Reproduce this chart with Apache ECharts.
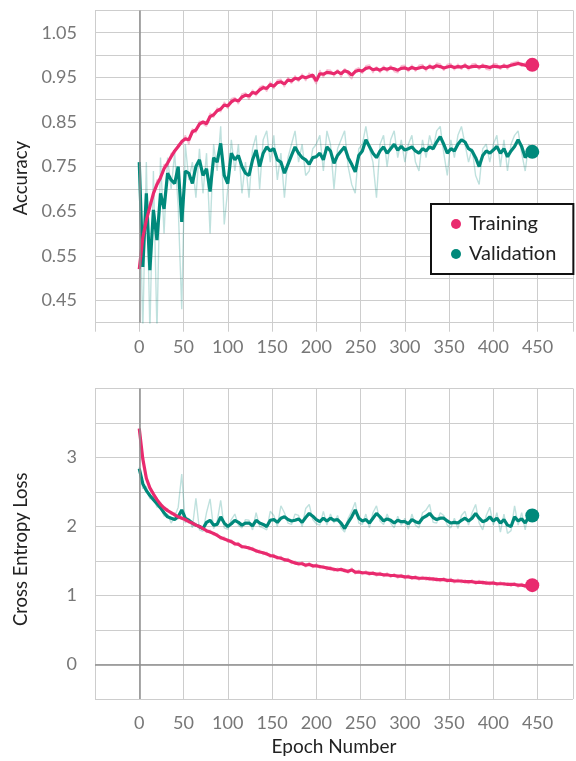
<!DOCTYPE html>
<html>
<head>
<meta charset="utf-8">
<script src="https://cdn.jsdelivr.net/npm/echarts@6/dist/echarts.min.js"></script>
<style>
html,body{margin:0;padding:0;background:#fff;}
#chart{width:576px;height:761px;}
</style>
</head>
<body>
<div id="chart"></div>
<script>
// ---- DATA ----
const epochs = [
  0,4,8,12,16,20,24,28,
  32,36,40,44,48,52,56,60,
  64,68,72,76,80,84,88,92,
  96,100,104,108,112,116,120,124,
  128,132,136,140,144,148,152,156,
  160,164,168,172,176,180,184,188,
  192,196,200,204,208,212,216,220,
  224,228,232,236,240,244,248,252,
  256,260,264,268,272,276,280,284,
  288,292,296,300,304,308,312,316,
  320,324,328,332,336,340,344,348,
  352,356,360,364,368,372,376,380,
  384,388,392,396,400,404,408,412,
  416,420,424,428,432,436,440,444
];

const trainAcc = [
  0.52,0.59,0.63,0.66,0.69,0.71,0.725,0.745,
  0.758,0.772,0.785,0.795,0.806,0.812,0.81,0.828,
  0.832,0.845,0.85,0.846,0.862,0.866,0.875,0.879,
  0.888,0.886,0.895,0.9,0.897,0.906,0.91,0.908,
  0.916,0.914,0.922,0.927,0.925,0.934,0.93,0.938,
  0.94,0.935,0.944,0.942,0.948,0.946,0.952,0.949,
  0.952,0.955,0.942,0.958,0.957,0.961,0.96,0.958,
  0.963,0.958,0.965,0.962,0.955,0.963,0.966,0.964,
  0.97,0.972,0.967,0.969,0.966,0.97,0.968,0.971,
  0.969,0.966,0.97,0.971,0.968,0.972,0.969,0.971,
  0.973,0.97,0.974,0.972,0.976,0.974,0.971,0.973,
  0.975,0.972,0.974,0.973,0.976,0.972,0.974,0.975,
  0.973,0.975,0.974,0.972,0.975,0.974,0.973,0.975,
  0.974,0.977,0.979,0.981,0.979,0.977,0.977,0.978
];
const trainAccRaw = [
  0.52,0.61,0.62,0.67,0.68,0.72,0.72,0.755,
  0.75,0.78,0.78,0.80,0.80,0.82,0.80,0.835,
  0.825,0.852,0.845,0.84,0.87,0.86,0.882,0.872,
  0.895,0.88,0.902,0.905,0.89,0.913,0.915,0.90,
  0.922,0.908,0.928,0.932,0.918,0.94,0.924,0.944,
  0.946,0.928,0.95,0.936,0.954,0.94,0.958,0.942,
  0.96,0.948,0.935,0.966,0.95,0.967,0.966,0.952,
  0.968,0.95,0.97,0.956,0.946,0.968,0.972,0.958,
  0.976,0.978,0.96,0.974,0.96,0.976,0.962,0.977,
  0.963,0.96,0.976,0.977,0.962,0.978,0.963,0.977,
  0.979,0.964,0.98,0.966,0.982,0.98,0.965,0.979,
  0.981,0.966,0.98,0.967,0.982,0.966,0.98,0.981,
  0.967,0.981,0.968,0.966,0.981,0.98,0.967,0.981,
  0.968,0.982,0.984,0.986,0.974,0.983,0.972,0.978
];
const valAcc = [
  0.76,0.525,0.69,0.518,0.653,0.585,0.69,0.655,
  0.735,0.72,0.712,0.75,0.626,0.74,0.735,0.712,
  0.75,0.765,0.73,0.745,0.694,0.77,0.76,0.802,
  0.73,0.712,0.78,0.765,0.775,0.75,0.735,0.73,
  0.765,0.787,0.75,0.78,0.794,0.785,0.79,0.765,
  0.76,0.735,0.755,0.775,0.794,0.78,0.77,0.765,
  0.755,0.77,0.772,0.78,0.765,0.794,0.785,0.757,
  0.775,0.785,0.794,0.77,0.755,0.738,0.775,0.785,
  0.81,0.795,0.78,0.77,0.785,0.794,0.78,0.79,
  0.80,0.787,0.795,0.787,0.79,0.794,0.785,0.78,
  0.79,0.785,0.794,0.79,0.805,0.817,0.80,0.78,
  0.79,0.785,0.80,0.81,0.805,0.79,0.785,0.77,
  0.75,0.775,0.785,0.78,0.787,0.795,0.78,0.79,
  0.772,0.785,0.795,0.81,0.795,0.77,0.785,0.783
];
const valAccRaw = [
  0.76,0.38,0.76,0.38,0.74,0.38,0.77,0.60,
  0.77,0.70,0.78,0.66,0.43,0.80,0.72,0.76,
  0.68,0.79,0.69,0.78,0.60,0.80,0.74,0.84,
  0.62,0.70,0.81,0.74,0.80,0.69,0.76,0.68,
  0.79,0.82,0.70,0.81,0.83,0.76,0.82,0.72,
  0.78,0.68,0.77,0.80,0.83,0.76,0.80,0.73,
  0.74,0.79,0.80,0.82,0.74,0.83,0.80,0.70,
  0.79,0.81,0.83,0.75,0.71,0.69,0.79,0.80,
  0.84,0.79,0.76,0.68,0.80,0.82,0.75,0.81,
  0.83,0.77,0.81,0.76,0.80,0.82,0.76,0.74,
  0.81,0.77,0.82,0.79,0.83,0.84,0.78,0.73,
  0.81,0.77,0.82,0.84,0.80,0.76,0.79,0.73,
  0.71,0.79,0.80,0.76,0.80,0.82,0.75,0.81,
  0.74,0.80,0.82,0.83,0.78,0.74,0.80,0.78
];

const trainLoss = [
  3.42,2.98,2.70,2.56,2.47,2.39,2.32,2.27,
  2.23,2.20,2.17,2.14,2.12,2.10,2.07,2.05,
  2.02,2.00,1.97,1.94,1.92,1.90,1.87,1.84,
  1.82,1.80,1.78,1.75,1.74,1.71,1.70,1.69,
  1.67,1.65,1.63,1.62,1.60,1.58,1.57,1.55,
  1.54,1.52,1.51,1.49,1.47,1.46,1.46,1.44,
  1.45,1.43,1.43,1.42,1.41,1.40,1.39,1.38,
  1.37,1.38,1.36,1.35,1.37,1.34,1.34,1.33,
  1.33,1.32,1.32,1.31,1.31,1.30,1.30,1.29,
  1.29,1.28,1.28,1.27,1.27,1.26,1.26,1.25,
  1.25,1.25,1.24,1.24,1.23,1.23,1.23,1.22,
  1.22,1.21,1.21,1.21,1.20,1.20,1.20,1.19,
  1.19,1.19,1.18,1.18,1.18,1.17,1.17,1.17,
  1.16,1.16,1.16,1.15,1.15,1.14,1.15,1.15
];
const trainLossRaw = [
  3.40,2.95,2.73,2.53,2.50,2.36,2.35,2.24,
  2.26,2.17,2.20,2.11,2.15,2.07,2.10,2.02,
  2.05,1.97,2.00,1.91,1.95,1.87,1.90,1.81,
  1.85,1.77,1.81,1.72,1.77,1.68,1.73,1.66,
  1.70,1.62,1.66,1.59,1.63,1.55,1.60,1.52,
  1.57,1.49,1.54,1.46,1.50,1.43,1.49,1.41,
  1.48,1.40,1.46,1.39,1.44,1.37,1.42,1.35,
  1.40,1.35,1.39,1.32,1.40,1.31,1.37,1.30,
  1.36,1.29,1.35,1.28,1.34,1.27,1.33,1.26,
  1.32,1.25,1.31,1.24,1.30,1.23,1.29,1.22,
  1.28,1.22,1.27,1.21,1.26,1.20,1.26,1.19,
  1.25,1.18,1.24,1.18,1.23,1.17,1.23,1.16,
  1.22,1.16,1.21,1.15,1.21,1.14,1.20,1.14,
  1.19,1.13,1.19,1.12,1.18,1.11,1.17,1.15
];
const valLoss = [
  2.84,2.62,2.52,2.45,2.39,2.33,2.27,2.20,
  2.14,2.12,2.10,2.14,2.24,2.12,2.09,2.05,
  2.02,2.00,1.97,2.06,2.09,2.02,2.03,2.14,
  2.05,2.00,2.04,2.09,2.06,2.02,2.05,2.05,
  2.01,2.09,2.05,2.03,2.00,2.09,2.10,2.06,
  2.12,2.14,2.10,2.08,2.09,2.11,2.06,2.13,
  2.19,2.15,2.10,2.07,2.12,2.08,2.12,2.09,
  2.10,2.05,1.97,2.06,2.14,2.24,2.12,2.08,
  2.10,2.05,2.12,2.19,2.14,2.08,2.11,2.09,
  2.05,2.09,2.07,2.07,2.04,2.10,2.07,2.05,
  2.12,2.15,2.19,2.13,2.10,2.12,2.12,2.08,
  2.05,2.06,2.05,2.09,2.12,2.08,2.12,2.19,
  2.12,2.07,2.09,2.14,2.08,2.12,2.05,2.10,
  2.02,2.00,2.14,2.08,2.11,2.05,2.14,2.16
];
const valLossRaw = [
  2.86,2.55,2.58,2.40,2.42,2.28,2.30,2.15,
  2.18,2.05,2.14,2.28,2.76,2.05,2.12,1.98,
  2.41,1.95,1.93,2.20,2.40,1.97,2.07,2.38,
  1.98,1.96,2.10,2.18,2.02,1.98,2.10,2.09,
  1.95,2.20,2.00,1.98,1.95,2.22,2.16,2.00,
  2.30,2.20,2.05,2.03,2.18,2.16,2.00,2.26,
  2.32,2.10,2.04,2.02,2.22,2.02,2.18,2.05,
  2.16,1.98,1.92,2.12,2.22,2.35,2.05,2.03,
  2.18,1.98,2.20,2.30,2.08,2.03,2.18,2.05,
  1.98,2.15,2.02,2.12,1.96,2.18,2.02,1.98,
  2.20,2.24,2.32,2.06,2.05,2.20,2.16,2.02,
  1.98,2.12,1.97,2.16,2.22,2.02,2.20,2.32,
  2.05,1.95,2.16,2.28,2.02,2.20,1.92,2.18,
  1.90,1.94,2.30,2.02,2.20,1.95,2.25,2.16
];

const accTicksShown = ['0.45','0.55','0.65','0.75','0.85','0.95','1.05'];
const lossTicksShown = ['0','1','2','3'];
const epochTicksShown = ['0','50','100','150','200','250','300','350','400','450'];

// ---- STYLE ----
const PINK = '#e92a6e';
const TEAL = '#00897b';
const GRIDC = '#cdcdcd';
const ZEROC = '#8e8e8e';
const FONT = 'Lato';

const pairs = arr => epochs.map((e, i) => [e, arr[i]]);
const last = arr => [[epochs[epochs.length - 1], arr[arr.length - 1]]];

const tickLabel = {fontFamily: FONT, fontSize: 18, color: '#777'};

function xAxisFor(idx, extra) {
  return Object.assign({
    gridIndex: idx, type: 'value', min: -50, max: 490, interval: 50,
    axisLine: {show: false},
    axisTick: {show: true, length: 9, lineStyle: {color: GRIDC}},
    splitLine: {show: true, lineStyle: {color: GRIDC, width: 1}},
    axisLabel: Object.assign({}, tickLabel, {
      margin: 15,
      formatter: v => { const s = String(Math.round(v)); return epochTicksShown.includes(s) ? s : ''; }
    })
  }, extra || {});
}

const zeroX = {silent: true, symbol: 'none', label: {show: false},
  lineStyle: {color: ZEROC, width: 1.5, type: 'solid'}, data: [{xAxis: 0}]};
const zeroXY = {silent: true, symbol: 'none', label: {show: false},
  lineStyle: {color: ZEROC, width: 1.5, type: 'solid'}, data: [{xAxis: 0}, {yAxis: 0}]};

const option = {
  animation: false,
  backgroundColor: '#fff',
  textStyle: {fontFamily: FONT},
  grid: [
    {left: 95, top: 10.4, height: 312.3, right: 0},
    {left: 95, top: 388.5, height: 310.5, right: 0}
  ],
  xAxis: [
    xAxisFor(0),
    xAxisFor(1, {name: 'Epoch Number', nameLocation: 'middle', nameGap: 38,
      nameTextStyle: {fontFamily: FONT, fontSize: 19, color: '#222'}})
  ],
  yAxis: [
    {
      gridIndex: 0, type: 'value', min: 0.4, max: 1.1, interval: 0.05,
      name: 'Accuracy', nameLocation: 'middle', nameGap: 64,
      nameTextStyle: {fontFamily: FONT, fontSize: 18.5, color: '#222', padding: [0, 23, 0, 0]},
      axisLine: {show: false},
      axisTick: {show: true, length: 9, lineStyle: {color: GRIDC}},
      splitLine: {show: true, lineStyle: {color: GRIDC, width: 1}},
      axisLabel: Object.assign({}, tickLabel, {
        margin: 18,
        formatter: v => { const s = v.toFixed(2); return accTicksShown.includes(s) ? s : ''; }
      })
    },
    {
      gridIndex: 1, type: 'value', min: -0.5, max: 4, interval: 0.5,
      name: 'Cross Entropy Loss', nameLocation: 'middle', nameGap: 64,
      nameTextStyle: {fontFamily: FONT, fontSize: 18.5, color: '#222', padding: [0, 11, 0, 0]},
      axisLine: {show: false},
      axisTick: {show: true, length: 9, lineStyle: {color: GRIDC}},
      splitLine: {show: true, lineStyle: {color: GRIDC, width: 1}},
      axisLabel: Object.assign({}, tickLabel, {
        margin: 18,
        formatter: v => { const s = String(Math.round(v * 100) / 100); return lossTicksShown.includes(s) ? s : ''; }
      })
    }
  ],
  legend: {
    data: [{name: 'Training', icon: 'circle'}, {name: 'Validation', icon: 'circle'}],
    orient: 'vertical', left: 431, top: 204,
    itemWidth: 10, itemHeight: 10, itemGap: 8,
    padding: [9, 17, 9, 20],
    borderColor: '#111', borderWidth: 2, borderRadius: 0,
    backgroundColor: '#fff',
    textStyle: {fontFamily: FONT, fontSize: 20, color: '#222', lineHeight: 22, padding: [0, 0, 0, 3]}
  },
  series: [
    // ---- accuracy panel ----
    {name: 'Validation raw', type: 'line', xAxisIndex: 0, yAxisIndex: 0, data: pairs(valAccRaw),
      symbol: 'none', color: TEAL, lineStyle: {color: TEAL, width: 1.4, opacity: 0.25}, z: 1,
      markLine: zeroX},
    {name: 'Training raw', type: 'line', xAxisIndex: 0, yAxisIndex: 0, data: pairs(trainAccRaw),
      symbol: 'none', color: PINK, lineStyle: {color: PINK, width: 1.4, opacity: 0.3}, z: 1},
    {name: 'Validation', type: 'line', xAxisIndex: 0, yAxisIndex: 0, data: pairs(valAcc),
      symbol: 'none', color: TEAL, lineStyle: {color: TEAL, width: 3.2}, z: 3},
    {name: 'Training', type: 'line', xAxisIndex: 0, yAxisIndex: 0, data: pairs(trainAcc),
      symbol: 'none', color: PINK, lineStyle: {color: PINK, width: 3.2}, z: 4},
    {name: 'Validation', type: 'scatter', xAxisIndex: 0, yAxisIndex: 0, data: last(valAcc),
      symbolSize: 14, itemStyle: {color: TEAL, opacity: 1}, z: 5},
    {name: 'Training', type: 'scatter', xAxisIndex: 0, yAxisIndex: 0, data: last(trainAcc),
      symbolSize: 14, itemStyle: {color: PINK, opacity: 1}, z: 5},
    // ---- loss panel ----
    {name: 'Validation raw', type: 'line', xAxisIndex: 1, yAxisIndex: 1, data: pairs(valLossRaw),
      symbol: 'none', color: TEAL, lineStyle: {color: TEAL, width: 1.4, opacity: 0.25}, z: 1,
      markLine: zeroXY},
    {name: 'Training raw', type: 'line', xAxisIndex: 1, yAxisIndex: 1, data: pairs(trainLossRaw),
      symbol: 'none', color: PINK, lineStyle: {color: PINK, width: 1.4, opacity: 0.3}, z: 1},
    {name: 'Validation', type: 'line', xAxisIndex: 1, yAxisIndex: 1, data: pairs(valLoss),
      symbol: 'none', color: TEAL, lineStyle: {color: TEAL, width: 3.2}, z: 3},
    {name: 'Training', type: 'line', xAxisIndex: 1, yAxisIndex: 1, data: pairs(trainLoss),
      symbol: 'none', color: PINK, lineStyle: {color: PINK, width: 3.2}, z: 4},
    {name: 'Validation', type: 'scatter', xAxisIndex: 1, yAxisIndex: 1, data: last(valLoss),
      symbolSize: 14, itemStyle: {color: TEAL, opacity: 1}, z: 5},
    {name: 'Training', type: 'scatter', xAxisIndex: 1, yAxisIndex: 1, data: last(trainLoss),
      symbolSize: 14, itemStyle: {color: PINK, opacity: 1}, z: 5}
  ]
};

const chart = echarts.init(document.getElementById('chart'), null, {renderer: 'canvas'});
chart.setOption(option);
</script>
</body>
</html>
